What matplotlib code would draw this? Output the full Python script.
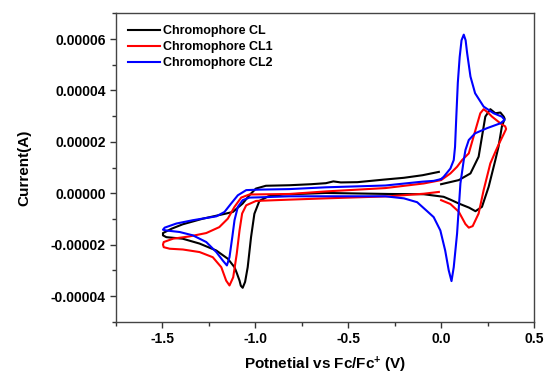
import numpy as np
import matplotlib.pyplot as plt
from matplotlib.ticker import MultipleLocator

plt.rcParams['font.family'] = ['Liberation Sans', 'DejaVu Sans']
plt.rcParams['font.weight'] = 'bold'
plt.rcParams['mathtext.fontset'] = 'custom'
plt.rcParams['mathtext.rm'] = 'Liberation Sans:bold'
plt.rcParams['mathtext.bf'] = 'Liberation Sans:bold'
plt.rcParams['mathtext.it'] = 'Liberation Sans:bold'

SCALE = 1e-5  # currents below are in units of 1e-5 A

# Chromophore CL : 0 -> +0.35 -> -1.5 -> 0 V
cl_e = [0.0, 0.095, 0.158, 0.202, 0.22, 0.238, 0.265, 0.292, 0.319, 0.337, 0.342,
        0.327, 0.309, 0.292, 0.256, 0.22, 0.185, 0.15, 0.095, 0.05, 0.014, -0.093,
        -0.28, -0.62, -0.85, -0.93, -0.978, -1.005, -1.023, -1.041, -1.055, -1.068,
        -1.078, -1.085, -1.1, -1.112, -1.148, -1.21, -1.30, -1.391, -1.479, -1.497,
        -1.497, -1.45, -1.391, -1.282, -1.175, -1.121, -1.068, -1.032, -0.997, -0.943,
        -0.817, -0.7, -0.62, -0.58, -0.54, -0.45, -0.307, -0.2, -0.1, -0.012]
cl_i = [0.35, 0.51, 0.77, 1.42, 2.2, 2.98, 3.27, 3.11, 3.14, 2.98, 2.9,
        2.59, 1.81, 1.29, 0.25, -0.53, -0.70, -0.56, -0.40, -0.25, -0.14, -0.04,
        -0.03, 0.01, -0.05, -0.12, -0.3, -0.8, -1.71, -2.88, -3.45, -3.68,
        -3.6, -3.40, -3.1, -2.88, -2.55, -2.23, -1.96, -1.77, -1.71, -1.64,
        -1.55, -1.38, -1.21, -0.99, -0.82, -0.73, -0.40, -0.08, 0.18, 0.29,
        0.31, 0.35, 0.39, 0.46, 0.42, 0.43, 0.53, 0.6, 0.7, 0.83]

# Chromophore CL1 : 0 -> -1.5 -> +0.35 -> 0 V
cl1_e = [-0.012, -0.093, -0.28, -0.62, -0.817, -0.996, -1.049, -1.071, -1.085, -1.1,
         -1.119, -1.139, -1.157, -1.183, -1.229, -1.30, -1.39, -1.461, -1.493, -1.497,
         -1.493, -1.443, -1.354, -1.264, -1.194, -1.148, -1.112, -1.076, -1.032, -0.817,
         -0.62, -0.3, -0.093, 0.0, 0.05, 0.086, 0.113, 0.149, 0.185, 0.211, 0.229,
         0.25, 0.274, 0.319, 0.345, 0.35, 0.337, 0.31, 0.292, 0.265, 0.229, 0.202,
         0.17, 0.149, 0.131, 0.095, 0.05, 0.0]
cl1_i = [0.05, -0.02, -0.12, -0.2, -0.25, -0.30, -0.47, -0.79, -1.45, -2.36,
         -3.27, -3.59, -3.40, -2.88, -2.49, -2.29, -2.19, -2.16, -2.10, -2.0,
         -1.90, -1.77, -1.68, -1.55, -1.32, -0.99, -0.53, -0.17, -0.05, -0.03,
         0.07, 0.2, 0.38, 0.51, 0.77, 1.03, 1.29, 1.55, 2.46, 3.11, 3.27,
         3.15, 2.98, 2.72, 2.6, 2.5, 2.3, 1.9, 1.61, 1.16, 0.12, -0.79,
         -1.28, -1.34, -1.2, -0.72, -0.42, -0.27]

# Chromophore CL2 : closed loop through 0 V
cl2_e = [0.0, 0.014, 0.05, 0.068, 0.075, 0.082, 0.09, 0.1, 0.11, 0.122, 0.132, 0.14,
         0.158, 0.183, 0.229, 0.283, 0.327, 0.342, 0.319, 0.247, 0.183, 0.149, 0.131,
         0.122, 0.104, 0.086, 0.068, 0.056, 0.041, 0.022, -0.004, -0.04, -0.075, -0.129,
         -0.2, -0.3, -0.62, -0.817, -0.978, -1.031, -1.068, -1.094, -1.112, -1.124,
         -1.139, -1.153, -1.175, -1.21, -1.264, -1.336, -1.407, -1.479, -1.497, -1.488,
         -1.425, -1.336, -1.21, -1.166, -1.13, -1.094, -1.049, -0.978, -0.817, -0.62,
         -0.3, -0.1, -0.04, 0.0]
cl2_i = [0.55, 0.64, 0.96, 1.29, 1.8, 3.0, 4.3, 5.3, 5.95, 6.17, 5.95, 5.46,
         4.54, 3.89, 3.37, 3.11, 2.98, 2.85, 2.72, 2.53, 2.33, 2.07, 1.68,
         1.29, 0.38, -1.57, -2.88, -3.42, -3.0, -2.23, -1.45, -0.93, -0.7, -0.35,
         -0.2, -0.12, -0.12, -0.12, -0.16, -0.17, -0.27, -0.53, -1.05, -1.71,
         -2.49, -2.81, -2.62, -2.29, -1.90, -1.64, -1.51, -1.45, -1.42, -1.34,
         -1.18, -1.05, -0.90, -0.73, -0.40, -0.08, 0.12, 0.14, 0.16, 0.23,
         0.30, 0.45, 0.48, 0.55]

labels = ['Chromophore CL', 'Chromophore CL1', 'Chromophore CL2']
colors = ['#000000', '#ff0000', '#0000ff']

fig = plt.figure(figsize=(5.45, 3.75), dpi=100)
ax = fig.add_axes([0.2128, 0.1421, 0.767, 0.8224])

for e, i, lab, c in zip([cl_e, cl1_e, cl2_e], [cl_i, cl1_i, cl2_i], labels, colors):
    ax.plot(e, np.array(i) * SCALE, color=c, lw=1.5, label=lab)

ax.set_xlim(-1.75, 0.5)
ax.set_ylim(-5e-5, 7e-5)
ax.xaxis.set_minor_locator(MultipleLocator(0.25))
ax.yaxis.set_minor_locator(MultipleLocator(1e-5))
ax.set_xticks([-1.5, -1.0, -0.5, 0.0, 0.5])
ax.set_xticklabels(['-1.5', '-1.0', '-0.5', '0.0', '0.5'])
yt = [-4e-5, -2e-5, 0, 2e-5, 4e-5, 6e-5]
ax.set_yticks(yt)
ax.set_yticklabels(['-0.00004', '-0.00002', '0.00000', '0.00002', '0.00004', '0.00006'])
ax.tick_params(which='both', direction='out', labelsize=10, color='#333333')
ax.tick_params(which='major', length=4, width=1)
ax.tick_params(which='minor', length=3, width=1)
for s in ax.spines.values():
    s.set_color('#444444')
    s.set_linewidth(1.0)

ax.set_xlabel('Potnetial vs Fc/Fc$^{+}$ (V)', fontsize=11, fontweight='bold', labelpad=6)
ax.set_ylabel('Current(A)', fontsize=11, fontweight='bold', labelpad=14)

ax.legend(loc='upper left', bbox_to_anchor=(0.01, 0.985), frameon=False, fontsize=9,
          handlelength=2.6, handletextpad=0.2, labelspacing=0.3, borderaxespad=0.2)

plt.savefig('out.png', dpi=100)
